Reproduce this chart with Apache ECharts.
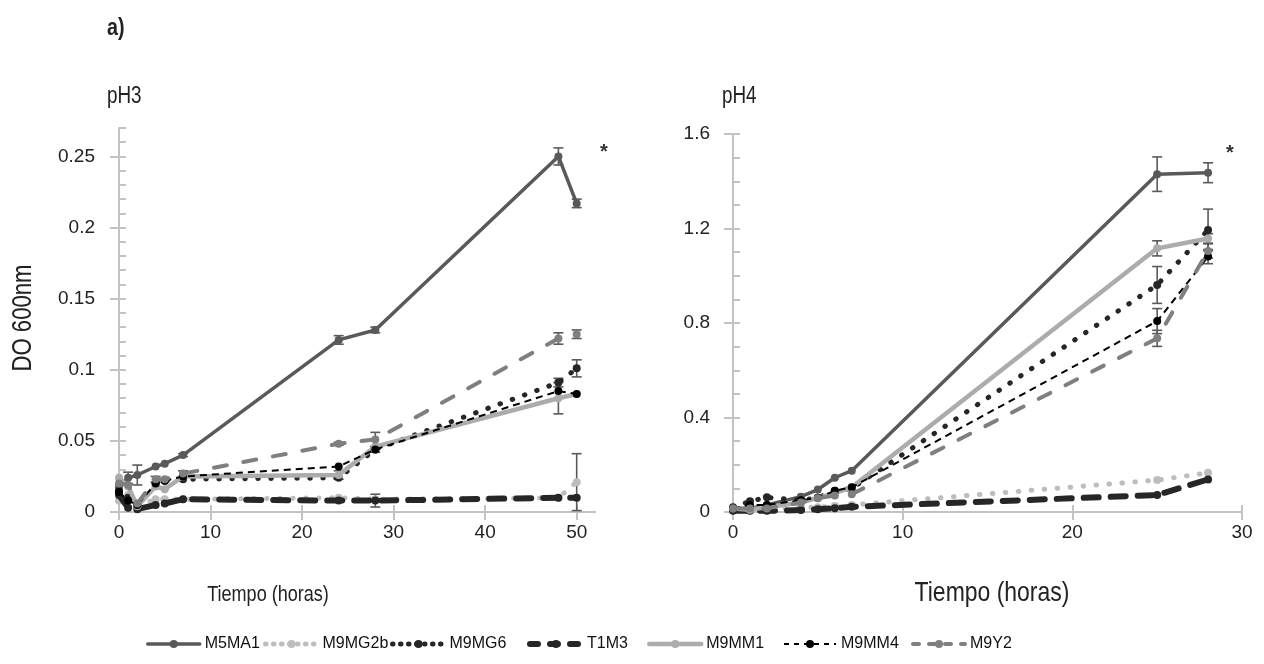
<!DOCTYPE html>
<html>
<head>
<meta charset="utf-8">
<script src="https://cdn.jsdelivr.net/npm/echarts@6/dist/echarts.min.js"></script>
<style>
html,body{margin:0;padding:0;background:#fff;}
#c{width:1264px;height:664px;}
</style>
</head>
<body>
<div id="c"></div>
<script>
// ---------- DATA ----------
const seriesNames = ['M5MA1','M9MG2b','M9MG6','T1M3','M9MM1','M9MM4','M9Y2'];

// pH3 panel
const timesPH3 = [0, 1, 2, 4, 5, 7, 24, 28, 48, 50];
const ph3_M5MA1  = [0.018, 0.024, 0.026, 0.032, 0.034, 0.040, 0.121, 0.128, 0.250, 0.217];
const ph3_M9MG2b = [0.008, 0.012, 0.004, 0.009, 0.009, 0.009, 0.010, 0.009, 0.010, 0.021];
const ph3_M9MG6  = [0.015, 0.010, 0.004, 0.020, 0.022, 0.023, 0.024, 0.044, 0.091, 0.101];
const ph3_T1M3   = [0.012, 0.003, 0.002, 0.005, 0.006, 0.009, 0.008, 0.008, 0.010, 0.010];
const ph3_M9MM1  = [0.024, 0.018, 0.004, 0.018, 0.016, 0.025, 0.026, 0.046, 0.080, 0.083];
const ph3_M9MM4  = [0.014, 0.008, 0.005, 0.020, 0.022, 0.025, 0.032, 0.044, 0.085, 0.083];
const ph3_M9Y2   = [0.020, 0.019, 0.006, 0.023, 0.023, 0.027, 0.048, 0.051, 0.122, 0.125];
// error bars (+/-) pH3
const ph3err_M5MA1  = [0, 0.004, 0.007, 0, 0, 0.001, 0.003, 0.002, 0.006, 0.003];
const ph3err_M9MG2b = [0, 0, 0, 0, 0, 0, 0, 0, 0, 0.020];
const ph3err_M9MG6  = [0, 0, 0, 0, 0, 0, 0, 0, 0.003, 0.006];
const ph3err_T1M3   = [0, 0, 0, 0, 0, 0, 0, 0.0045, 0, 0];
const ph3err_M9MM1  = [0, 0, 0, 0, 0, 0, 0.003, 0, 0.011, 0];
const ph3err_M9MM4  = [0, 0, 0, 0, 0, 0, 0, 0.002, 0, 0];
const ph3err_M9Y2   = [0, 0, 0, 0.002, 0, 0.002, 0.001, 0.005, 0.004, 0.003];

// pH4 panel
const timesPH4 = [0, 1, 2, 4, 5, 6, 7, 25, 28];
const ph4_M5MA1  = [0.015, 0.015, 0.030, 0.065, 0.095, 0.145, 0.175, 1.430, 1.436];
const ph4_M9MG2b = [0.010, 0.010, 0.010, 0.020, 0.020, 0.025, 0.030, 0.135, 0.166];
const ph4_M9MG6  = [0.020, 0.045, 0.062, 0.050, 0.060, 0.090, 0.100, 0.961, 1.194];
const ph4_T1M3   = [0.005, 0.005, 0.005, 0.008, 0.012, 0.016, 0.022, 0.072, 0.138];
const ph4_M9MM1  = [0.015, 0.010, 0.020, 0.040, 0.060, 0.080, 0.105, 1.116, 1.158];
const ph4_M9MM4  = [0.015, 0.030, 0.030, 0.050, 0.060, 0.090, 0.105, 0.808, 1.081];
const ph4_M9Y2   = [0.015, 0.015, 0.015, 0.040, 0.058, 0.070, 0.075, 0.735, 1.105];
const ph4err_M5MA1  = [0, 0, 0, 0, 0, 0, 0, 0.073, 0.042];
const ph4err_M9MG2b = [0, 0, 0, 0, 0, 0, 0, 0, 0];
const ph4err_M9MG6  = [0, 0, 0, 0, 0, 0, 0, 0.078, 0.088];
const ph4err_T1M3   = [0, 0, 0, 0, 0, 0, 0, 0, 0];
const ph4err_M9MM1  = [0, 0, 0, 0, 0, 0, 0, 0.032, 0.020];
const ph4err_M9MM4  = [0, 0, 0, 0, 0, 0, 0, 0.053, 0.030];
const ph4err_M9Y2   = [0, 0, 0, 0, 0, 0, 0, 0.034, 0.030];

// tick labels
const ph3XTicks = [0, 10, 20, 30, 40, 50];
const ph3YTicks = [0, 0.05, 0.1, 0.15, 0.2, 0.25];
const ph4XTicks = [0, 10, 20, 30];
const ph4YTicks = [0, 0.4, 0.8, 1.2, 1.6];

// ---------- STYLE ----------
const FONT = '"Liberation Sans", Arial, sans-serif';
const NARROW = 0.82; // horizontal squeeze for free texts (reference uses a narrow face)
const styles = {
  M5MA1:  {color:'#595959', width:3.5, type:'solid', cap:'round', legendType:'solid'},
  M9MG2b: {color:'#bdbdbd', width:5, type:[0.5, 12.5], cap:'round', legendType:[0.5, 7.5]},
  M9MG6:  {color:'#262626', width:5, type:[0.5, 12.5], cap:'round', legendType:[0.5, 7.5]},
  T1M3:   {color:'#262626', width:6, type:[15, 12], cap:'round', legendType:[8, 12]},
  M9MM1:  {color:'#acacac', width:4.5, type:'solid', cap:'round', legendType:'solid'},
  M9MM4:  {color:'#000000', width:2, type:[7, 5], cap:'butt', legendType:[5, 5]},
  M9Y2:   {color:'#7f7f7f', width:4, type:[13, 17], cap:'round', legendType:[6, 10]}
};
const ph3Sets = {M5MA1:[ph3_M5MA1,ph3err_M5MA1], M9MG2b:[ph3_M9MG2b,ph3err_M9MG2b], M9MG6:[ph3_M9MG6,ph3err_M9MG6], T1M3:[ph3_T1M3,ph3err_T1M3], M9MM1:[ph3_M9MM1,ph3err_M9MM1], M9MM4:[ph3_M9MM4,ph3err_M9MM4], M9Y2:[ph3_M9Y2,ph3err_M9Y2]};
const ph4Sets = {M5MA1:[ph4_M5MA1,ph4err_M5MA1], M9MG2b:[ph4_M9MG2b,ph4err_M9MG2b], M9MG6:[ph4_M9MG6,ph4err_M9MG6], T1M3:[ph4_T1M3,ph4err_T1M3], M9MM1:[ph4_M9MM1,ph4err_M9MM1], M9MM4:[ph4_M9MM4,ph4err_M9MM4], M9Y2:[ph4_M9Y2,ph4err_M9Y2]};

const AXIS_COLOR = '#c3c3c3';

function errRender(params, api){
  const x = api.value(0), y = api.value(1), e = api.value(2);
  const t = api.coord([x, y + e]);
  const b = api.coord([x, y - e]);
  const w = 5;
  const st = {stroke:'#5a5a5a', lineWidth:1.6};
  return {type:'group', children:[
    {type:'line', shape:{x1:t[0], y1:t[1], x2:b[0], y2:b[1]}, style:st},
    {type:'line', shape:{x1:t[0]-w, y1:t[1], x2:t[0]+w, y2:t[1]}, style:st},
    {type:'line', shape:{x1:b[0]-w, y1:b[1], x2:b[0]+w, y2:b[1]}, style:st}
  ]};
}

function buildSeries(times, sets, xi, yi){
  const out = [];
  const errData = [];
  seriesNames.forEach(n => {
    const [vals, errs] = sets[n];
    errs.forEach((e, i) => { if (e > 0) errData.push([times[i], vals[i], e]); });
  });
  out.push({type:'custom', name:'err', xAxisIndex:xi, yAxisIndex:yi, renderItem:errRender,
            data:errData, z:1, silent:true, clip:false});
  seriesNames.forEach((n, k) => {
    const s = styles[n];
    const vals = sets[n][0];
    out.push({
      type:'line', name:n, xAxisIndex:xi, yAxisIndex:yi,
      data: times.map((t,i)=>[t, vals[i]]),
      symbol:'circle', symbolSize:8, showSymbol:true,
      lineStyle:{color:s.color, width:s.width, type:s.type, cap:s.cap},
      itemStyle:{color:s.color},
      z: 2 + k, animation:false
    });
  });
  return out;
}

function xAxes(gridIndex, max, ticks){
  return [
    {type:'value', gridIndex, position:'bottom', min:0, max,
     axisLine:{show:true, lineStyle:{color:AXIS_COLOR, width:2}},
     axisTick:{show:true, inside:true, length:7, customValues:ticks, lineStyle:{color:AXIS_COLOR, width:2}},
     axisLabel:{show:false}, splitLine:{show:false}},
    {type:'value', gridIndex, position:'bottom', min:0, max,
     axisLine:{show:false},
     axisTick:{show:true, inside:false, length:8, customValues:ticks, lineStyle:{color:AXIS_COLOR, width:2}},
     axisLabel:{show:true, customValues:ticks, margin:11, fontSize:19, color:'#222', fontFamily:FONT},
     splitLine:{show:false}}
  ];
}
function yAxes(gridIndex, max, minorStep, ticks, margin){
  return [
    {type:'value', gridIndex, position:'left', min:0, max, interval:minorStep,
     axisLine:{show:true, lineStyle:{color:AXIS_COLOR, width:2}},
     axisTick:{show:true, inside:true, length:7, lineStyle:{color:AXIS_COLOR, width:2}},
     axisLabel:{show:false}, splitLine:{show:false}},
    {type:'value', gridIndex, position:'left', min:0, max,
     axisLine:{show:false},
     axisTick:{show:true, inside:false, length:9, customValues:ticks, lineStyle:{color:AXIS_COLOR, width:2}},
     axisLabel:{show:true, customValues:ticks, margin, fontSize:19, color:'#222', fontFamily:FONT},
     splitLine:{show:false}}
  ];
}

const legendLefts = [146, 263, 390, 527, 647, 783, 911];
const legends = seriesNames.map((n,i)=>({
  data:[n], left:legendLefts[i], top:636, itemWidth:52, itemHeight:10, itemGap:0,
  selectedMode:false, padding:0,
  lineStyle:{type:styles[n].legendType, cap:styles[n].cap, width:styles[n].width, color:styles[n].color},
  textStyle:{fontSize:16, color:'#111', fontFamily:FONT}
}));

function ntext(x, y, text, font, extra){
  return Object.assign({type:'text', x, y, scaleX:NARROW,
    style:{text, font, fill:'#222', align:'left', verticalAlign:'middle'}}, extra || {});
}

const chart = echarts.init(document.getElementById('c'), null, {renderer:'canvas'});
chart.setOption({
  animation:false,
  backgroundColor:'#fff',
  textStyle:{fontFamily:FONT},
  grid:[
    {left:119, right:669, top:128, bottom:152, containLabel:false},
    {left:733, right:22, top:134, bottom:152, containLabel:false}
  ],
  xAxis:[...xAxes(0, 52, ph3XTicks), ...xAxes(1, 30, ph4XTicks)],
  yAxis:[...yAxes(0, 0.27, 0.01, ph3YTicks, 24), ...yAxes(1, 1.6, 0.1, ph4YTicks, 23)],
  legend:legends,
  series:[...buildSeries(timesPH3, ph3Sets, 1, 1), ...buildSeries(timesPH4, ph4Sets, 3, 3)],
  graphic:[
    ntext(107, 28, 'a)', 'bold 24px '+FONT),
    ntext(107, 97, 'pH3', '23px '+FONT),
    ntext(722, 97, 'pH4', '23px '+FONT),
    {type:'text', x:600, y:152, style:{text:'*', font:'bold 20px '+FONT, fill:'#333', verticalAlign:'middle'}},
    {type:'text', x:1226, y:153, style:{text:'*', font:'bold 20px '+FONT, fill:'#333', verticalAlign:'middle'}},
    {type:'text', x:24, y:318, rotation:Math.PI/2, scaleX:NARROW,
     style:{text:'DO 600nm', font:'27px '+FONT, fill:'#222', align:'center', verticalAlign:'middle'}},
    {type:'text', x:268, y:595, scaleX:NARROW,
     style:{text:'Tiempo (horas)', font:'22px '+FONT, fill:'#222', align:'center', verticalAlign:'middle'}},
    {type:'text', x:992, y:593, scaleX:NARROW,
     style:{text:'Tiempo (horas)', font:'28px '+FONT, fill:'#222', align:'center', verticalAlign:'middle'}}
  ]
});
</script>
</body>
</html>
